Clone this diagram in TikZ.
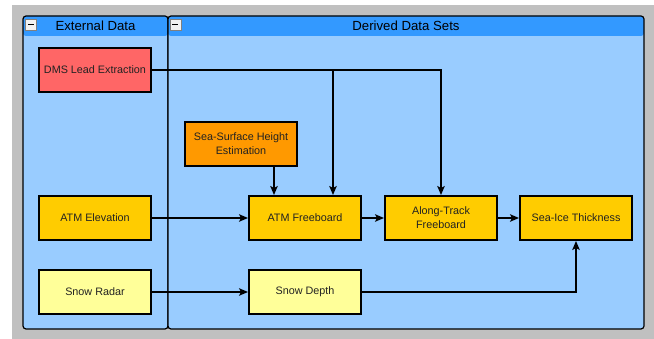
\documentclass[tikz,border=0pt]{standalone}
\usepackage{fontspec}
\setmainfont{Liberation Sans}
\usepackage{xcolor}
\definecolor{bgGrey}{HTML}{C0C0C0}
\definecolor{panelBlue}{HTML}{99CCFF}
\definecolor{barBlue}{HTML}{3399FF}
\definecolor{dmsRed}{HTML}{FF6666}
\definecolor{sshOrange}{HTML}{FF9900}
\definecolor{atmYellow}{HTML}{FFCC00}
\definecolor{snowYellow}{HTML}{FFFF99}
\definecolor{textGrey}{HTML}{222222}
\usepackage{tikz}
\usetikzlibrary{calc}
\usetikzlibrary{positioning, arrows.meta}

\begin{document}
\begin{tikzpicture}[x=1pt, y=-1pt,
			boxStyle/.style={draw=black, line width=2pt, align=center, inner sep=0pt, minimum width=112pt, minimum height=44pt, text=textGrey, font=\fontsize{10.8}{14}\selectfont},
			dms/.style={boxStyle, fill=dmsRed},
			ssh/.style={boxStyle, fill=sshOrange},
			atm/.style={boxStyle, fill=atmYellow},
			snow/.style={boxStyle, fill=snowYellow},
			panelStyle/.style={draw=black, line width=1.2pt, rounded corners=3pt, fill=panelBlue, inner sep=0pt,
				path picture={\fill[barBlue] (path picture bounding box.north west) rectangle ([yshift=-20pt]path picture bounding box.north east);}},
			titleStyle/.style={text=black, inner sep=0pt, font=\fontsize{13.2}{15}\selectfont},
			buttonStyle/.style={draw=gray, line width=0.6pt, fill=white!90!gray, minimum width=11pt, minimum height=11pt, inner sep=0pt},
			flowStyle/.style={-{Stealth[length=9pt, width=7.5pt, inset=2pt]}, line width=1.4pt},]
			
			\useasboundingbox (0,0) rectangle (654,339);
			\fill[bgGrey] (12,5) rectangle (654,339);
			
			% panels
			\node[panelStyle, minimum width=145pt, minimum height=313pt] (extPanel) at (95.5,172.5) {};
			\node[panelStyle, minimum width=476pt, minimum height=313pt] (derPanel) at (406,172.5) {};
			\node[titleStyle] (extTitle) at ([yshift=-10pt]extPanel.north) {External Data};
			\node[titleStyle] (derTitle) at ([yshift=-10pt]derPanel.north) {Derived Data Sets};
			\node[buttonStyle] (extButton) at ([xshift=8.5pt, yshift=-9pt]extPanel.north west) {\rule{6pt}{1.6pt}};
			\node[buttonStyle] (derButton) at ([xshift=8pt, yshift=-9pt]derPanel.north west) {\rule{6pt}{1.6pt}};
			
			% data sets
			\node[atm] (elev) at (95,218) {ATM Elevation};
			\node[dms, above=102pt of elev] (dms) {DMS Lead Extraction};
			\node[snow, below=28pt of elev] (radar) {Snow Radar};
			
			\node[atm, right=96pt of elev] (fb) {ATM Freeboard};
			\node[atm, right=22pt of fb] (along) {Along-Track\\Freeboard};
			\node[atm, right=21pt of along] (ice) {Sea-Ice Thickness};
			\node[snow, below=28pt of fb] (depth) {Snow Depth};
			\node[ssh, above=28pt of fb, xshift=-64pt] (ssh) {Sea-Surface Height\\Estimation};
			
			\coordinate (fbLeft) at ([xshift=-31pt]fb.north);
			\coordinate (fbRight) at ([xshift=28pt]fb.north);
			
			\foreach \from/\to in {elev/fb, fb/along, along/ice, radar/depth}
			\draw[flowStyle] (\from) -- (\to);
			
			\draw[flowStyle] (dms.east) -| (along.north);
			\draw[flowStyle] (dms.east -| fbRight) -- (fbRight);
			\draw[flowStyle] (ssh.south -| fbLeft) -- (fbLeft);
			\draw[flowStyle] (depth.east) -| (ice.south);
		\end{tikzpicture}
\end{document}
